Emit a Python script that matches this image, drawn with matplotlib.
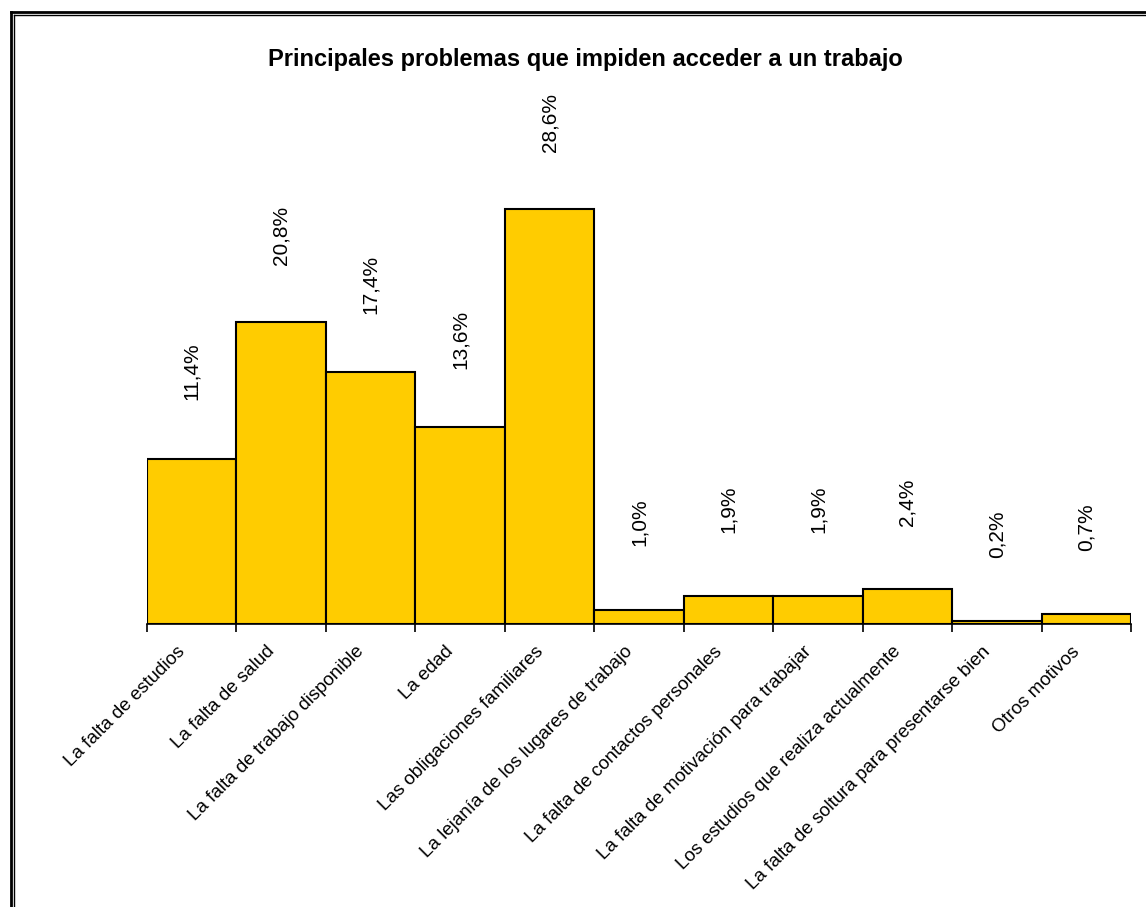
import matplotlib
matplotlib.use('Agg')
import matplotlib.pyplot as plt
import matplotlib.transforms as mtransforms
from matplotlib.lines import Line2D

plt.rcParams['font.family'] = ['Liberation Sans', 'DejaVu Sans']

# data
categories = [
    'La falta de estudios',
    'La falta de salud',
    'La falta de trabajo disponible',
    'La edad',
    'Las obligaciones familiares',
    'La lejanía de los lugares de trabajo',
    'La falta de contactos personales',
    'La falta de motivación para trabajar',
    'Los estudios que realiza actualmente',
    'La falta de soltura para presentarse bien',
    'Otros motivos',
]
values = [11.4, 20.8, 17.4, 13.6, 28.6, 1.0, 1.9, 1.9, 2.4, 0.2, 0.7]
title = 'Principales problemas que impiden acceder a un trabajo'

fig = plt.figure(figsize=(11.46, 9.07), dpi=100)
ax = fig.add_axes([0.1283, 0.3120, 0.8586, 0.5757])

x = list(range(len(values)))
ax.bar(x, values, width=1.0, color='#FFCC00', edgecolor='black', linewidth=1.5)

# value labels, rotated
for xi, v in zip(x, values):
    label = f'{v:.1f}%'.replace('.', ',')
    ax.text(xi, v + 6.0, label, rotation=90, ha='center', va='center', fontsize=15)

ax.set_xlim(-0.5, len(values) - 0.5)
ax.set_ylim(0, 36)

# ticks on bar boundaries, labels at bar centres
ax.set_xticks([i - 0.5 for i in range(len(values) + 1)])
ax.set_xticklabels([])
ax.tick_params(axis='x', which='major', direction='out', length=6, width=1.2)
ax.set_xticks(x, minor=True)
ax.set_xticklabels(categories, minor=True, rotation=45, ha='right',
                   va='center', rotation_mode='anchor', fontsize=13.5)
ax.tick_params(axis='x', which='minor', length=0, pad=18)
shift = mtransforms.ScaledTranslation(-0.09, 0, fig.dpi_scale_trans)
for lab in ax.get_xticklabels(minor=True):
    lab.set_transform(lab.get_transform() + shift)
ax.set_yticks([])

for side in ['left', 'right', 'top']:
    ax.spines[side].set_visible(False)
ax.spines['bottom'].set_linewidth(1.2)

fig.text(0.5105, 0.934, title, ha='center', va='center', fontsize=17, fontweight='bold')

# double frame line on left and top
fig.add_artist(Line2D([0.0096, 0.0096], [0.0, 0.9868], color='black', lw=2))
fig.add_artist(Line2D([0.0096, 1.0], [0.9868, 0.9868], color='black', lw=2))
fig.add_artist(Line2D([0.0126, 0.0126], [0.0, 0.9830], color='black', lw=1))
fig.add_artist(Line2D([0.0126, 1.0], [0.9830, 0.9830], color='black', lw=1))

fig.savefig('out.png', dpi=100)
